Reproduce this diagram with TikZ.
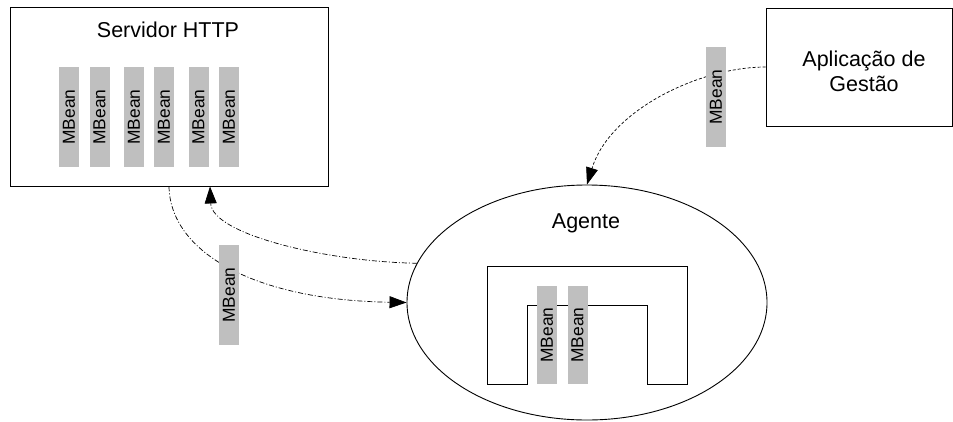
\documentclass[tikz,border=0pt]{standalone}
\usepackage{fontspec}
\setmainfont{Liberation Sans}
\usetikzlibrary{shapes.geometric,arrows.meta}
\begin{document}
\begin{tikzpicture}[x=1pt,y=-1pt,
  frame/.style={draw=black,line width=0.9pt,fill=white,inner sep=0pt},
  bigtxt/.style={font=\fontsize{21.5}{25}\selectfont,inner sep=0pt,align=center},
  mbean/.style={fill=black!25,draw=none,minimum width=100pt,minimum height=20pt,inner sep=0pt,
     rotate=90,font=\fontsize{17.4}{20}\selectfont},
  ddot/.style={line width=0.7pt,dash pattern=on 5pt off 2pt on 1pt off 2pt},
  dsh/.style={line width=0.7pt,dash pattern=on 3pt off 2pt},
  tip/.style={-{Triangle[length=17pt,width=12pt]}}
]
\useasboundingbox (0,0) rectangle (953,421);
% frames
\node[frame,minimum width=318pt,minimum height=179pt] (srv) at (169,96.5) {};
\node[bigtxt] (srvt) at (168,30) {Servidor HTTP};
\node[frame,minimum width=186pt,minimum height=118pt] (app) at (859,67) {};
\node[bigtxt] (appt) at (864,71) {Aplicação de\\Gestão};
\node[frame,ellipse,minimum width=360pt,minimum height=235pt] (ag) at (587,302.5) {};
\node[bigtxt] (agt) at (586,223) {Agente};
% U shape
\draw[line width=0.9pt] (487,384) -- (487,266) -- (687,266) -- (687,384) -- (647,384) -- (647,305) -- (527,305) -- (527,384) -- cycle;
% connectors
\draw[ddot,tip] (ag.167) .. controls (330,262) and (212,235) .. ([xshift=41pt]srv.south);
\draw[ddot,tip] (srv.south) .. controls (170,250) and (250,300) .. (ag.west);
\draw[dsh,tip] (app.west) .. controls (700,67) and (610,110) .. (ag.north);
% MBeans
\node[mbean] (m1) at (69,117) {MBean};
\node[mbean] (m2) at (99.5,117) {MBean};
\node[mbean] (m3) at (134,117) {MBean};
\node[mbean] (m4) at (164,117) {MBean};
\node[mbean] (m5) at (198.5,117) {MBean};
\node[mbean] (m6) at (229,117) {MBean};
\node[mbean] (m7) at (716,97) {MBean};
\node[mbean] (m8) at (229,295) {MBean};
\node[mbean,minimum width=98pt] (m9) at (547,335) {MBean};
\node[mbean,minimum width=98pt] (m10) at (577.5,335) {MBean};
\end{tikzpicture}
\end{document}
